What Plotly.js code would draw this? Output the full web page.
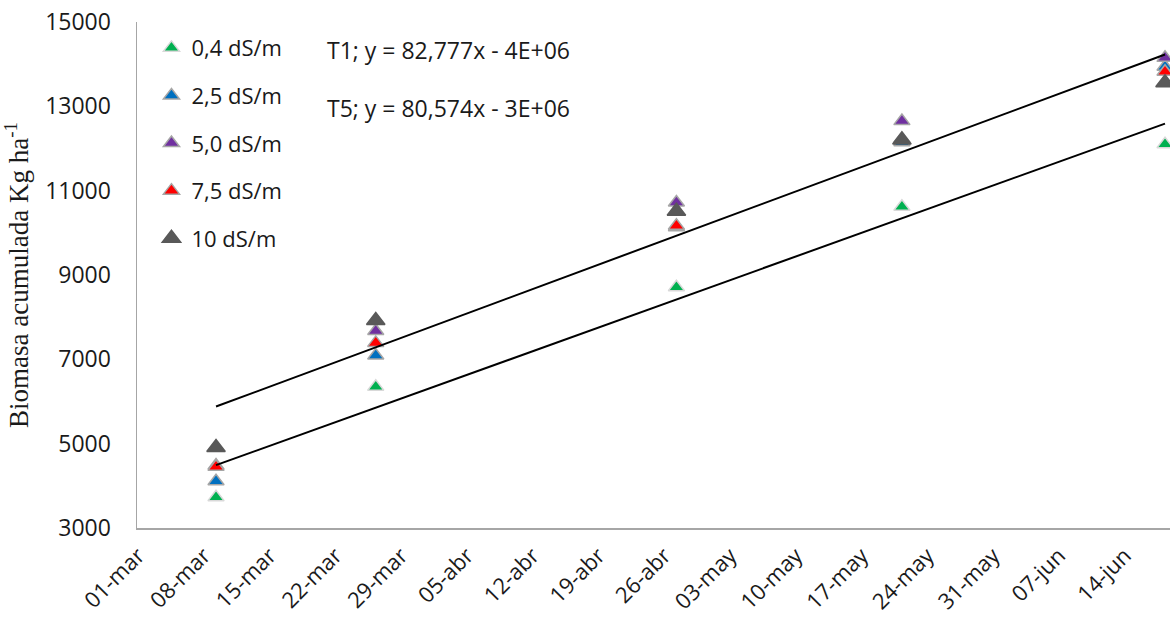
<!DOCTYPE html>
<html>
<head>
<meta charset="utf-8">
<script src="https://cdn.plot.ly/plotly-3.0.1.min.js"></script>
<style>
  html, body { margin: 0; padding: 0; background: #ffffff; }
  #chart { width: 1170px; height: 624px; }
</style>
</head>
<body>
<div id="chart"></div>
<script>
// Sampling dates
const sampleDates = ['2019-03-08', '2019-03-25', '2019-04-26', '2019-05-20', '2019-06-17'];

// Series names
const seriesNames = ['0,4 dS/m', '2,5 dS/m', '5,0 dS/m', '7,5 dS/m', '10 dS/m'];

// Accumulated biomass (kg/ha) per treatment
const t1Values = [3730, 6350, 8710, 10620, 12100];   // 0,4 dS/m
const t2Values = [4110, 7090, 10130, 12150, 13940];  // 2,5 dS/m
const t3Values = [4480, 7670, 10720, 12650, 14150];  // 5,0 dS/m
const t4Values = [4450, 7390, 10170, 12230, 13820];  // 7,5 dS/m
const t5Values = [4910, 7920, 10510, 12200, 13560];  // 10 dS/m

// Trend lines (start and end of fitted lines)
const trendDates = ['2019-03-08', '2019-06-17'];
const trendT1 = [5880, 14230];
const trendT5 = [4490, 12590];

// Equation labels
const equationLabels = ['T1; y = 82,777x - 4E+06', 'T5; y = 80,574x - 3E+06'];

// X tick labels
const tickDates = ['2019-03-01', '2019-03-08', '2019-03-15', '2019-03-22', '2019-03-29',
  '2019-04-05', '2019-04-12', '2019-04-19', '2019-04-26', '2019-05-03', '2019-05-10',
  '2019-05-17', '2019-05-24', '2019-05-31', '2019-06-07', '2019-06-14'];
const tickLabels = ['01-mar', '08-mar', '15-mar', '22-mar', '29-mar', '05-abr', '12-abr',
  '19-abr', '26-abr', '03-may', '10-may', '17-may', '24-may', '31-may', '07-jun', '14-jun'];

const seriesValues = [t1Values, t2Values, t3Values, t4Values, t5Values];
const fillColors = ['#00b050', '#0070c0', '#7030a0', '#ff0000', '#595959'];
const edgeColors = ['#d9d9d9', '#a6a6a6', '#a6a6a6', '#a6a6a6', '#595959'];
const markerSizes = [14, 14, 14, 14, 16];

const traces = seriesValues.map((vals, i) => ({
  type: 'scatter',
  mode: 'markers',
  x: sampleDates,
  y: vals,
  name: seriesNames[i],
  legendgroup: 'g' + i,
  cliponaxis: false,
  marker: {
    symbol: 'triangle-up',
    size: markerSizes[i],
    color: fillColors[i],
    line: { color: edgeColors[i], width: 1.5 }
  }
}));

traces.push({
  type: 'scatter', mode: 'lines', x: trendDates, y: trendT1,
  line: { color: '#000000', width: 2 }, showlegend: false, hoverinfo: 'skip'
});
traces.push({
  type: 'scatter', mode: 'lines', x: trendDates, y: trendT5,
  line: { color: '#000000', width: 2 }, showlegend: false, hoverinfo: 'skip'
});

const calFont = 'Open Sans, Arial, sans-serif';

const layout = {
  width: 1170,
  height: 624,
  margin: { l: 137, r: 0, t: 22, b: 96 },
  paper_bgcolor: '#ffffff',
  plot_bgcolor: '#ffffff',
  showlegend: true,
  legend: {
    x: 0.014, y: 0.99, xanchor: 'left', yanchor: 'top',
    traceorder: 'grouped',
    tracegroupgap: 16,
    font: { family: calFont, size: 22, color: '#1a1a1a' },
    bgcolor: 'rgba(0,0,0,0)',
    itemwidth: 30
  },
  xaxis: {
    type: 'date',
    range: ['2019-02-27 14:10', '2019-06-17 12:45'],
    tickmode: 'array',
    tickvals: tickDates,
    ticktext: tickLabels,
    tickangle: -45,
    tickfont: { family: calFont, size: 22, color: '#1a1a1a' },
    ticks: '',
    ticklabelstandoff: 4,
    ticklabelshift: -12,
    showline: true, linecolor: '#a6a6a6', linewidth: 2,
    showgrid: false, zeroline: false
  },
  yaxis: {
    range: [3000, 15000],
    tick0: 3000, dtick: 2000,
    tickformat: 'd',
    tickfont: { family: calFont, size: 23, color: '#1a1a1a' },
    ticks: 'outside', ticklen: 20, tickcolor: 'rgba(0,0,0,0)',
    showline: true, linecolor: '#a6a6a6', linewidth: 1.5,
    showgrid: false, zeroline: false,
    title: {
      text: 'Biomasa acumulada Kg ha<sup>-1</sup>',
      font: { family: 'Liberation Serif, Times New Roman, serif', size: 27, color: '#1a1a1a' },
      standoff: 10
    }
  },
  annotations: equationLabels.map((t, i) => ({
    xref: 'paper', yref: 'paper',
    x: 0.182, y: i === 0 ? 0.945 : 0.830,
    xanchor: 'left', yanchor: 'middle',
    text: t, showarrow: false,
    font: { family: calFont, size: 23, color: '#1a1a1a' }
  }))
};

Plotly.newPlot('chart', traces, layout, { displayModeBar: false, staticPlot: true });
</script>
</body>
</html>
